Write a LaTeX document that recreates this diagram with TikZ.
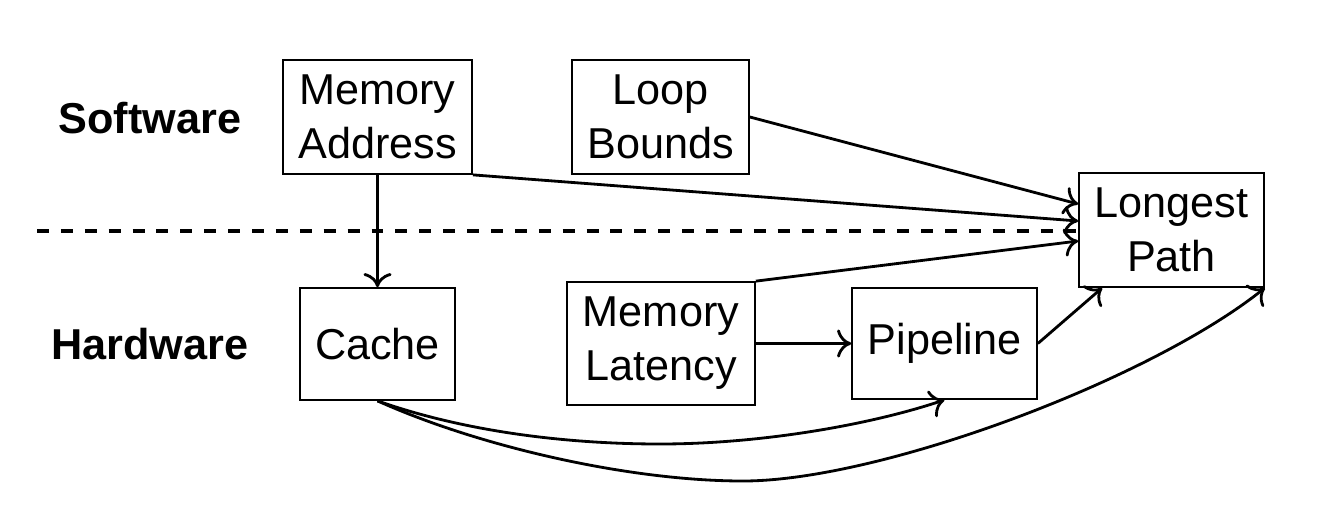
\documentclass[tikz,border=0pt]{standalone}
\usepackage{fontspec}
\setmainfont{Liberation Sans}
\usetikzlibrary{arrows.meta,calc}
\begin{document}
\begin{tikzpicture}[x=0.02cm,y=-0.02cm,
  box/.style={draw,line width=1pt,inner sep=0pt,align=center,font=\fontsize{24.6}{30.7}\selectfont},
  lbl/.style={font=\fontsize{24.6}{30.7}\selectfont\bfseries},
  conn/.style={line width=1.6pt,-{Computer Modern Rightarrow[length=8pt,width=16pt]}},
  sep/.style={line width=2.1pt,dash pattern=on 6.8pt off 6.8pt}]
\useasboundingbox (0,0) rectangle (1328,507);
\node[lbl] (sw) at (150,118) {Software};
\node[lbl] (hw) at (150,344) {Hardware};
\node[box,minimum width=3.78cm,minimum height=2.28cm] (ma) at (377.5,117) {Memory\\Address};
\node[box,minimum width=3.54cm,minimum height=2.28cm] (lb) at (660.5,117) {Loop\\Bounds};
\node[box,minimum width=3.70cm,minimum height=2.28cm] (lp) at (1171.5,230) {Longest\\Path};
\node[box,minimum width=3.10cm,minimum height=2.24cm] (ca) at (377.5,344) {Cache};
\node[box,minimum width=3.76cm,minimum height=2.46cm] (ml) at (661,343.5) {Memory\\Latency};
\node[box,minimum width=3.70cm,minimum height=2.22cm] (pi) at (944.5,343.5) {Pipeline};
\coordinate (dl) at (37,231);
\draw[sep] (dl) -- (dl -| lp.west);
\draw[conn] (ma.south) -- (ca.north);
\draw[conn] (ma.south east) -- ($(lp.west)+(0,-9)$);
\draw[conn] (lb.east) -- ($(lp.west)+(0,-26)$);
\draw[conn] (ml.north east) -- ($(lp.west)+(0,11)$);
\draw[conn] (ml.east) -- (pi.west);
\draw[conn] (pi.east) -- ($(lp.south west)+(24,0)$);
\draw[conn] (ca.south) .. controls (460,430) and (560,444) .. (660,444) .. controls (760,444) and (870,425) .. (pi.south);
\draw[conn] (ca.south) .. controls (480,447) and (630,481) .. (743,481) .. controls (880,481) and (1150,380) .. (lp.south east);
\end{tikzpicture}
\end{document}
